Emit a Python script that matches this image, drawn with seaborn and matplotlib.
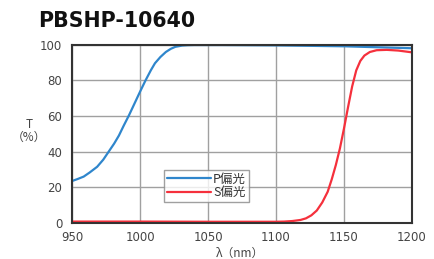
import numpy as np
import pandas as pd
import seaborn as sns
import matplotlib
matplotlib.use("Agg")
import matplotlib.pyplot as plt

# P-polarization data (wavelength nm, transmittance %)
p_wl = [950, 954, 958.6, 963, 968.5, 973, 977, 981, 984.5, 988, 992, 996, 1000, 1004,
        1008, 1011, 1015, 1019, 1022.7, 1026, 1031, 1035, 1040, 1050, 1060, 1100, 1150, 1200]
p_t = [23.5, 24.6, 26, 28.3, 31.5, 35.5, 40, 44.5, 49, 54.5, 60.5, 67, 73.5, 79.8,
       85.6, 89.5, 93, 95.8, 97.6, 98.7, 99.4, 99.6, 99.7, 99.7, 99.7, 99.5, 99.0, 97.9]

# S-polarization data
s_wl = [950, 1000, 1050, 1100, 1106, 1112, 1118, 1122, 1126, 1130, 1134, 1138, 1141, 1144, 1147,
        1150, 1153, 1156, 1159, 1162, 1165, 1169, 1174, 1181.5, 1190, 1200]
s_t = [0.8, 0.8, 0.7, 0.7, 0.8, 1.1, 1.7, 2.6, 4.3, 7.0, 11.5, 17.5, 24.5, 32.5, 41.8,
       53, 65, 76.5, 85.5, 90.8, 93.8, 95.8, 96.8, 97, 96.6, 95.6]

labels = ["P偏光", "S偏光"]
colors = ["#2F86CC", "#F5303C"]

x_ticks = [950, 1000, 1050, 1100, 1150, 1200]
y_ticks = [0, 20, 40, 60, 80, 100]

sns.set_theme(style="white")
plt.rcParams['font.family'] = ['DejaVu Sans', 'Noto Sans CJK JP']

df = pd.concat([
    pd.DataFrame({"wl": p_wl, "T": p_t, "pol": labels[0]}),
    pd.DataFrame({"wl": s_wl, "T": s_t, "pol": labels[1]}),
])

fig = plt.figure(figsize=(4.35, 2.59), dpi=100)
ax = fig.add_axes([72/435, (259-223)/259, (412-72)/435, (223-44.5)/259])

sns.lineplot(data=df, x="wl", y="T", hue="pol", palette=colors, ax=ax,
             linewidth=1.6, legend=True)

ax.set_xlim(950, 1200)
ax.set_ylim(0, 100)
ax.set_xticks(x_ticks)
ax.set_yticks(y_ticks)
ax.grid(True, color="#a0a0a0", linewidth=1.0)
ax.set_axisbelow(True)
ax.tick_params(axis="both", length=0, labelsize=8.5, colors="#444444")
ax.tick_params(axis="x", pad=6)
ax.tick_params(axis="y", pad=7)
for s in ax.spines.values():
    s.set_color("#333333")
    s.set_linewidth(1.5)

ax.set_xlabel("λ（nm）", fontsize=8.5, color="#444444", labelpad=0,
              family=["Noto Sans CJK JP", "DejaVu Sans"])
ax.xaxis.set_label_coords((240 - 72) / 340, -(253 - 223) / 178.5)
ax.xaxis.label.set_va("center")
ax.set_ylabel("T\n（%）", fontsize=8.5, color="#444444", rotation=0,
              va="center", ha="center", linespacing=1.0,
              family=["Noto Sans CJK JP", "DejaVu Sans"])
ax.yaxis.set_label_coords((29 - 72) / 340, (223 - 131) / 178.5)

leg = ax.legend(title=None, loc="lower left", bbox_to_anchor=(0.27, 0.115),
                fontsize=9, frameon=True, fancybox=False, handlelength=3.5,
                handletextpad=0.2, borderpad=0.25, labelspacing=0.05,
                borderaxespad=0, prop={"family": ["Noto Sans CJK JP", "DejaVu Sans"], "size": 9})
leg.get_frame().set_edgecolor("#888888")
leg.get_frame().set_linewidth(1.0)
for t in leg.get_texts():
    t.set_color("#333333")

fig.text(38/435, 1 - 11/259, "PBSHP-10640", fontsize=14.8, fontweight="bold",
         color="#111111", va="top", ha="left", family="DejaVu Sans")

fig.savefig("out.png", dpi=100)
